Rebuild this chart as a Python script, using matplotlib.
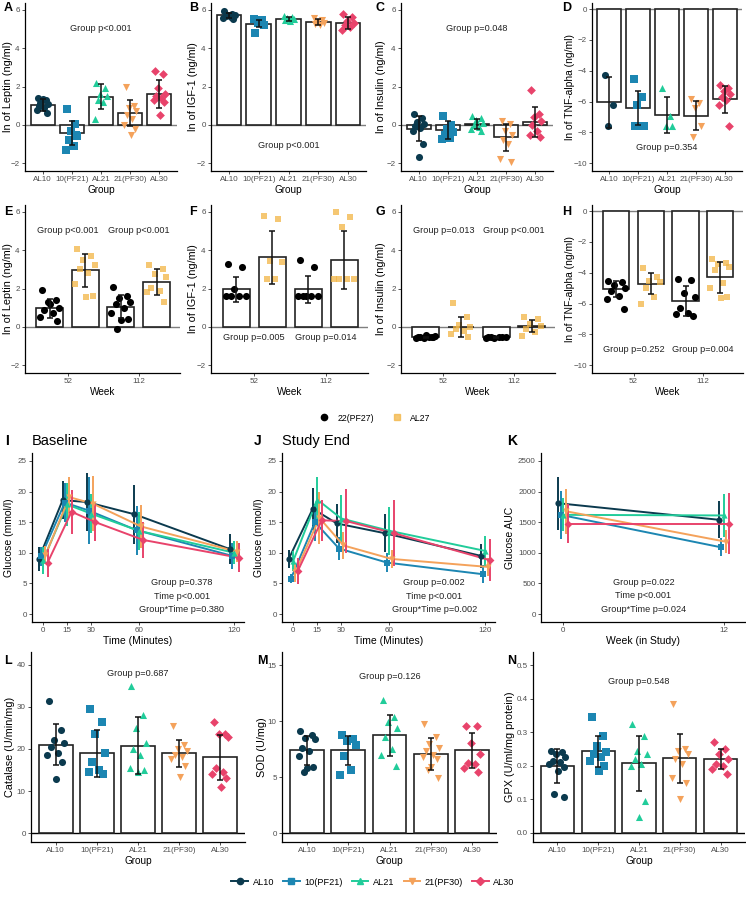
import matplotlib
matplotlib.use("Agg")
import matplotlib.pyplot as plt
from matplotlib.lines import Line2D
import numpy as np

plt.rcParams['font.family'] = ['Liberation Sans', 'DejaVu Sans']

W, H = 746, 897

# groups (rows 1, 4 and line panels)
groups = ["AL10", "10(PF21)", "AL21", "21(PF30)", "AL30"]
colors = ["#0B3A4E", "#1C86B2", "#21CC9A", "#F4A25B", "#E8436B"]
markers = ["o", "s", "^", "v", "D"]

# week panels
weeks = ["52", "112"]
diets = ["22(PF27)", "AL27"]
diet_colors = ["#000000", "#F2B544"]

# ---- A: leptin
lep_mean = [1.05, -0.42, 1.48, 0.62, 1.62]
lep_sd = [0.30, 0.63, 0.63, 0.67, 0.73]
lep_pts = [[1.4, 1.3, 1.2, 1.1, 1.0, 0.9, 0.8, 0.6, 1.35, 1.15],
           [0.85, 0.05, -0.3, -0.6, -0.8, -1.1, -1.3, -0.5],
           [2.2, 1.9, 1.6, 1.5, 1.3, 1.2, 0.3],
           [2.0, 1.0, 0.9, 0.7, 0.5, 0.3, 0.0, -0.2, -0.5],
           [2.8, 2.65, 1.9, 1.6, 1.5, 1.4, 1.3, 1.2, 0.5]]
# ---- B: IGF-1
igf_mean = [5.70, 5.28, 5.52, 5.37, 5.30]
igf_sd = [0.12, 0.17, 0.12, 0.15, 0.30]
igf_pts = [[5.95, 5.8, 5.75, 5.7, 5.65, 5.6, 5.55, 5.5],
           [5.5, 5.45, 5.3, 5.2, 4.8],
           [5.65, 5.6, 5.55, 5.5, 5.45, 5.4],
           [5.55, 5.45, 5.35, 5.3, 5.25, 5.2],
           [5.8, 5.6, 5.4, 5.3, 5.2, 5.1, 4.95]]
# ---- C: insulin
ins_mean = [-0.20, -0.25, 0.05, -0.65, 0.15]
ins_sd = [0.65, 0.48, 0.27, 0.72, 0.78]
ins_pts = [[0.55, 0.35, 0.15, 0.05, -0.05, -0.15, -0.3, -1.0, -1.65],
           [0.45, 0.0, -0.2, -0.35, -0.5, -0.7, -0.75],
           [0.45, 0.35, 0.25, 0.1, 0.0, -0.1, -0.2, -0.3],
           [0.2, 0.05, -0.3, -0.5, -0.8, -1.0, -1.75, -1.95],
           [1.8, 0.55, 0.4, 0.2, 0.0, -0.3, -0.55, -0.65]]
# ---- D: TNF-alpha
tnf_mean = [-6.05, -6.40, -6.85, -6.90, -5.85]
tnf_sd = [1.65, 1.12, 1.18, 0.93, 0.87]
tnf_pts = [[-4.3, -6.2, -7.6],
           [-4.5, -5.7, -6.2, -7.6, -7.6, -7.6],
           [-5.1, -6.9, -7.6, -7.6],
           [-5.8, -6.1, -6.4, -7.6, -8.3],
           [-4.9, -5.1, -5.3, -5.5, -5.7, -5.9, -6.2, -7.6]]

# ---- E-H: by week, [week][diet]
wk_lep_mean = [[0.97, 2.95], [1.05, 2.35]]
wk_lep_sd = [[0.50, 0.87], [0.60, 0.68]]
wk_lep_pts = [[[1.9, 1.4, 1.3, 1.0, 0.9, 0.7, 0.5, 0.3, 1.2],
               [4.05, 3.7, 3.5, 3.2, 3.0, 2.8, 2.25, 1.6, 1.55]],
              [[2.1, 1.6, 1.5, 1.3, 1.2, 1.0, 0.7, 0.4, 0.35, -0.1],
               [3.2, 3.0, 2.75, 2.6, 2.05, 1.85, 1.8, 1.3]]]
wk_igf_mean = [[1.95, 3.62], [1.95, 3.47]]
wk_igf_sd = [[0.67, 1.40], [0.72, 1.52]]
wk_igf_pts = [[[3.3, 3.1, 1.95, 1.6, 1.6, 1.6, 1.6],
               [5.8, 5.6, 3.45, 3.4, 2.5, 2.5]],
              [[3.5, 3.1, 1.6, 1.6, 1.6, 1.6, 1.6],
               [6.0, 5.7, 5.2, 2.5, 2.5, 2.5, 2.5]]]
wk_ins_mean = [[-0.55, 0.0], [-0.55, 0.05]]
wk_ins_sd = [[0.05, 0.53], [0.04, 0.29]]
wk_ins_pts = [[[-0.5, -0.55, -0.6, -0.45, -0.55, -0.5, -0.6, -0.55, -0.4],
               [1.25, 0.5, 0.1, 0.0, -0.1, -0.2, -0.35, -0.5]],
              [[-0.5, -0.55, -0.6, -0.5, -0.55, -0.55, -0.6],
               [0.5, 0.4, 0.15, 0.05, -0.1, -0.25, -0.45]]]
wk_tnf_mean = [[-5.05, -4.70], [-5.80, -4.30]]
wk_tnf_sd = [[0.50, 0.68], [0.97, 1.00]]
wk_tnf_pts = [[[-4.5, -4.6, -4.8, -5.0, -5.2, -5.5, -5.7, -6.35],
               [-3.7, -4.3, -4.5, -4.6, -5.0, -5.55, -6.05]],
              [[-4.4, -4.45, -5.3, -5.6, -6.3, -6.6, -6.7, -6.8],
               [-3.1, -3.35, -3.45, -3.6, -3.8, -4.65, -5.0, -5.6, -5.65]]]

# ---- I, J: glucose tolerance
minutes = [0, 15, 30, 60, 120]
base_mean = [[9.0, 18.6, 18.3, 16.3, 10.6],
             [9.4, 18.2, 16.9, 13.7, 9.5],
             [8.8, 17.9, 16.4, 13.6, 10.0],
             [9.6, 19.1, 18.0, 14.3, 10.2],
             [8.4, 16.7, 15.0, 12.1, 9.2]]
base_sd = [[1.9, 3.1, 4.7, 4.8, 2.4],
           [1.6, 3.2, 5.5, 4.0, 2.1],
           [2.2, 3.5, 3.2, 3.1, 1.9],
           [1.5, 3.3, 4.5, 3.5, 1.7],
           [2.3, 3.6, 3.0, 3.0, 2.4]]
end_mean = [[9.0, 17.2, 14.8, 13.2, 9.5],
            [5.8, 15.0, 10.7, 8.4, 6.5],
            [8.7, 18.7, 15.6, 13.6, 10.3],
            [6.8, 15.7, 11.2, 9.0, 7.7],
            [7.0, 15.3, 15.2, 13.2, 8.8]]
end_sd = [[1.5, 3.4, 3.2, 3.1, 1.9],
          [0.7, 3.0, 1.9, 1.5, 1.5],
          [1.6, 3.7, 3.9, 3.9, 2.5],
          [1.5, 4.2, 2.2, 1.5, 1.5],
          [2.1, 3.3, 5.3, 5.4, 3.4]]
# ---- K: glucose AUC
study_weeks = [0, 12]
auc_mean = [[1810, 1540], [1620, 1090], [1620, 1610], [1680, 1180], [1475, 1475]]
auc_sd = [[430, 305], [390, 150], [270, 350], [370, 190], [315, 500]]

# ---- L: catalase
cat_mean = [21.0, 19.0, 20.8, 19.0, 18.0]
cat_sd = [4.9, 5.6, 6.7, 3.2, 5.4]
cat_pts = [[31.3, 24.5, 22, 21.5, 20.5, 19, 18.5, 17, 12.8],
           [29.5, 26.5, 23.5, 19, 17, 15, 14.5, 14],
           [35, 28, 25, 21.5, 20, 18.5, 15.5, 15, 14.5],
           [25.5, 21, 20, 19.5, 18.5, 18, 17.5, 16, 13.3],
           [26.3, 23.5, 23.5, 22.8, 15.5, 14.5, 14, 13.2, 11]]
# ---- M: SOD
sod_mean = [7.4, 7.4, 8.75, 7.1, 7.4]
sod_sd = [1.3, 1.3, 1.85, 1.45, 1.55]
sod_pts = [[9.1, 8.8, 8.5, 8.4, 7.6, 7.3, 6.9, 5.9, 5.8, 5.5],
           [8.8, 8.4, 8.2, 7.9, 6.9, 5.6, 5.2],
           [11.9, 10.4, 9.9, 9.4, 8.6, 7.5, 7.0, 6.0],
           [9.8, 8.6, 8.0, 7.6, 7.3, 7.0, 6.8, 6.6, 5.9, 5.6, 4.9],
           [9.6, 9.6, 8.1, 7.1, 6.3, 6.2, 5.8, 5.5]]
# ---- N: GPX
gpx_mean = [0.200, 0.243, 0.207, 0.222, 0.219]
gpx_sd = [0.050, 0.047, 0.083, 0.073, 0.030]
gpx_pts = [[0.245, 0.24, 0.235, 0.225, 0.215, 0.21, 0.205, 0.195, 0.185, 0.115, 0.108],
           [0.345, 0.29, 0.26, 0.24, 0.235, 0.225, 0.215, 0.2, 0.185],
           [0.325, 0.29, 0.245, 0.235, 0.22, 0.205, 0.2, 0.095, 0.048],
           [0.385, 0.25, 0.245, 0.235, 0.22, 0.205, 0.165, 0.15, 0.1],
           [0.27, 0.25, 0.235, 0.22, 0.205, 0.2, 0.19, 0.175]]

# fixed horizontal spread for the dots
JIT = [-0.16, 0.12, -0.04, 0.19, -0.11, 0.06, -0.2, 0.15, 0.01, -0.08, 0.17]

TICK_FS = 5.8
LAB_FS = 7.2
YLAB_FS = 7.8
ANN_FS = 6.6

fig = plt.figure(figsize=(W / 100, H / 100), dpi=100)


def ax_px(l, t, r, b):
    return fig.add_axes([l / W, 1 - b / H, (r - l) / W, (b - t) / H])


def style(ax, ylabel, ylab_x, fs=YLAB_FS):
    for s in ["top", "right"]:
        ax.spines[s].set_visible(False)
    for s in ["left", "bottom"]:
        ax.spines[s].set_color("black")
        ax.spines[s].set_linewidth(0.9)
    ax.tick_params(colors="#333333", labelcolor="#4D4D4D", labelsize=TICK_FS,
                   length=2.5, width=0.6, pad=1.3)
    ax.set_ylabel(ylabel, fontsize=fs, va="center")
    pos = ax.get_position()
    ax.yaxis.set_label_coords((ylab_x / W - pos.x0) / pos.width, 0.5)


def letter(x, y, s):
    fig.text(x / W, 1 - y / H, s, fontsize=9, fontweight="bold", va="center", ha="left")


def group_panel(ax, means, sds, pts, ylim, yticks, ylabel, ylab_x, ptext, py,
                hcol="#7F7F7F", yfs=YLAB_FS):
    x = np.arange(1, 6)
    ax.axhline(0, color=hcol, lw=1.0, zorder=1)
    ax.bar(x, means, width=0.82, facecolor="white", edgecolor="#222222", lw=1.2, zorder=2)
    for i in range(5):
        vals = pts[i]
        xs = [x[i] + JIT[k % len(JIT)] for k in range(len(vals))]
        ax.scatter(xs, vals, marker=markers[i], color=colors[i],
                   s=20 if markers[i] == "D" else 26, lw=0, zorder=3)
    ax.errorbar(x, means, yerr=sds, fmt="none", ecolor="#111111", elinewidth=1.1,
                capsize=2.2, capthick=1.1, zorder=4)
    ax.set_xlim(0.4, 5.6)
    ax.set_ylim(*ylim)
    ax.set_yticks(yticks)
    ax.set_xticks(x)
    ax.set_xticklabels(groups)
    ax.set_xlabel("Group", fontsize=LAB_FS, labelpad=1)
    ax.text(3, py, ptext, fontsize=ANN_FS, ha="center", va="center", color="#222222")
    style(ax, ylabel, ylab_x, fs=yfs)


def week_panel(ax, means, sds, pts, ylim, yticks, ylabel, ylab_x, ptexts, py,
               yfs=YLAB_FS):
    ax.axhline(0, color="#7F7F7F", lw=1.0, zorder=1)
    for w in range(2):
        for d in range(2):
            xc = w + 1 + (d - 0.5) * 0.5
            ax.bar(xc, means[w][d], width=0.38, facecolor="white", edgecolor="#222222",
                   lw=1.2, zorder=2)
            vals = pts[w][d]
            xs = [xc + 0.7 * JIT[k % len(JIT)] for k in range(len(vals))]
            if d == 0:
                ax.scatter(xs, vals, marker="o", color="black", s=26, lw=0, zorder=3)
            else:
                ax.scatter(xs, vals, marker="s", color=diet_colors[1], alpha=0.75,
                           s=24, lw=0, zorder=3)
            ax.errorbar(xc, means[w][d], yerr=sds[w][d], fmt="none", ecolor="#111111",
                        elinewidth=1.1, capsize=2.2, capthick=1.1, zorder=4)
        ax.text(w + 1, py, ptexts[w], fontsize=ANN_FS, ha="center", va="center",
                color="#222222")
    ax.set_xlim(0.4, 2.58)
    ax.set_ylim(*ylim)
    ax.set_yticks(yticks)
    ax.set_xticks([1, 2])
    ax.set_xticklabels(weeks)
    ax.set_xlabel("Week", fontsize=LAB_FS, labelpad=1)
    style(ax, ylabel, ylab_x, fs=yfs)


def line_panel(ax, xs, means, sds, step, xlim, xticks, ylim, yticks, xlabel, ylabel,
               ylab_x, texts, tx, tys):
    for g in range(5):
        xx = np.array(xs, dtype=float) + (g - 2) * step
        ax.plot(xx, means[g], color=colors[g], lw=1.4, zorder=2)
        ax.errorbar(xx, means[g], yerr=sds[g], fmt="none", ecolor=colors[g],
                    elinewidth=1.4, zorder=2)
        ax.scatter(xx, means[g], marker=markers[g], color=colors[g],
                   s=16 if markers[g] == "D" else 20, lw=0, zorder=3)
    ax.set_xlim(*xlim)
    ax.set_xticks(xticks)
    ax.set_ylim(*ylim)
    ax.set_yticks(yticks)
    ax.set_xlabel(xlabel, fontsize=LAB_FS + 0.3, labelpad=1)
    for t, ty in zip(texts, tys):
        ax.text(tx, ty, t, fontsize=ANN_FS, ha="center", va="center", color="#222222")
    style(ax, ylabel, ylab_x, fs=YLAB_FS - 0.3)


# ---------------- row 1
lim1 = (-2.4, 6.35)
t1 = [-2, 0, 2, 4, 6]
limT = (-10.5, 0.4)
tT = [-10, -8, -6, -4, -2, 0]
group_panel(ax_px(25, 3, 177, 171), lep_mean, lep_sd, lep_pts, lim1, t1,
            "ln of Leptin (ng/ml)", 8, "Group p<0.001", 5.0)
group_panel(ax_px(211, 3, 366, 171), igf_mean, igf_sd, igf_pts, lim1, t1,
            "ln of IGF-1 (ng/ml)", 193, "Group p<0.001", -1.05)
group_panel(ax_px(401, 3, 553, 171), ins_mean, ins_sd, ins_pts, lim1, t1,
            "ln of Insulin (ng/ml)", 381, "Group p=0.048", 5.0)
group_panel(ax_px(592, 3, 742, 171), tnf_mean, tnf_sd, tnf_pts, limT, tT,
            "ln of TNF-alpha (ng/ml)", 570, "Group p=0.354", -9.0, yfs=7.4)

# ---------------- row 2
week_panel(ax_px(25, 205, 180, 373), wk_lep_mean, wk_lep_sd, wk_lep_pts, lim1, t1,
           "ln of Leptin (ng/ml)", 8, ["Group p<0.001", "Group p<0.001"], 5.0)
week_panel(ax_px(211, 205, 368, 373), wk_igf_mean, wk_igf_sd, wk_igf_pts, lim1, t1,
           "ln of IGF-1 (ng/ml)", 193, ["Group p=0.005", "Group p=0.014"], -0.55)
week_panel(ax_px(401, 205, 555, 373), wk_ins_mean, wk_ins_sd, wk_ins_pts, lim1, t1,
           "ln of Insulin (ng/ml)", 381, ["Group p=0.013", "Group p<0.001"], 5.0)
week_panel(ax_px(592, 205, 743, 373), wk_tnf_mean, wk_tnf_sd, wk_tnf_pts, limT, tT,
           "ln of TNF-alpha (ng/ml)", 570, ["Group p=0.252", "Group p=0.004"], -9.0,
           yfs=7.4)

h1 = [Line2D([0], [0], marker="o", color="black", lw=0, ms=4.5),
      Line2D([0], [0], marker="s", color=diet_colors[1], alpha=0.75, lw=0, ms=4.5)]
fig.legend(h1, diets, loc="center", bbox_to_anchor=(0.5, 1 - 418 / H), ncol=2,
           frameon=False, fontsize=TICK_FS + 0.5, handletextpad=0.5, columnspacing=1.6)

# ---------------- row 3
gl_y = (-1.3, 26.3)
line_panel(ax_px(32, 453, 244, 622), minutes, base_mean, base_sd, 1.4, (-7, 126),
           minutes, gl_y, [0, 5, 10, 15, 20, 25], "Time (Minutes)", "Glucose (mmol/l)", 9,
           ["Group p=0.378", "Time p<0.001", "Group*Time p=0.380"], 87, [5.2, 2.9, 0.8])
line_panel(ax_px(282, 453, 495, 622), minutes, end_mean, end_sd, 1.4, (-7, 126),
           minutes, gl_y, [0, 5, 10, 15, 20, 25], "Time (Minutes)", "Glucose (mmol/l)",
           259, ["Group p=0.002", "Time p<0.001", "Group*Time p=0.002"], 88,
           [5.2, 2.9, 0.8])
line_panel(ax_px(541, 453, 745, 622), study_weeks, auc_mean, auc_sd, 0.19, (-1.65, 13.6),
           study_weeks, (-130, 2630), [0, 500, 1000, 1500, 2000, 2500],
           "Week (in Study)", "Glucose AUC", 510,
           ["Group p=0.022", "Time p<0.001", "Group*Time p=0.024"], 6, [520, 295, 82])

fig.text(5 / W, 1 - 441 / H, "I", fontsize=10, fontweight="bold", va="center")
fig.text(32 / W, 1 - 441 / H, "Baseline", fontsize=10.5, va="center")
fig.text(254 / W, 1 - 441 / H, "J", fontsize=10, fontweight="bold", va="center")
fig.text(282 / W, 1 - 441 / H, "Study End", fontsize=10.5, va="center")
fig.text(507 / W, 1 - 441 / H, "K", fontsize=10, fontweight="bold", va="center")

# ---------------- row 4
group_panel(ax_px(31, 652, 245, 842), cat_mean, cat_sd, cat_pts, (-2.1, 43),
            [0, 10, 20, 30, 40], "Catalase (U/min/mg)", 10, "Group p=0.687", 38,
            hcol="black")
group_panel(ax_px(282, 652, 497, 842), sod_mean, sod_sd, sod_pts, (-0.8, 16.2),
            [0, 5, 10, 15], "SOD (U/mg)", 262, "Group p=0.126", 14.0, hcol="black")
group_panel(ax_px(533, 652, 745, 842), gpx_mean, gpx_sd, gpx_pts, (-0.027, 0.539),
            [0.0, 0.1, 0.2, 0.3, 0.4, 0.5], "GPX (U/ml/mg protein)", 510,
            "Group p=0.548", 0.452, hcol="black")

h2 = [Line2D([0], [0], marker=markers[i], color=colors[i], lw=1.4,
             ms=4 if markers[i] == "D" else 4.5) for i in range(5)]
fig.legend(h2, groups, loc="center", bbox_to_anchor=(0.5, 1 - 882 / H), ncol=5,
           frameon=False, fontsize=TICK_FS + 0.8, handlelength=1.8, handletextpad=0.5,
           columnspacing=1.0)

# panel letters
for s, x, y in [("A", 4, 8), ("B", 189, 8), ("C", 376, 8), ("D", 562, 8),
                ("E", 4, 212), ("F", 189, 212), ("G", 376, 212), ("H", 562, 212),
                ("L", 4, 661), ("M", 257, 661), ("N", 507, 661)]:
    letter(x, y, s)

fig.savefig("out.png", dpi=100)
